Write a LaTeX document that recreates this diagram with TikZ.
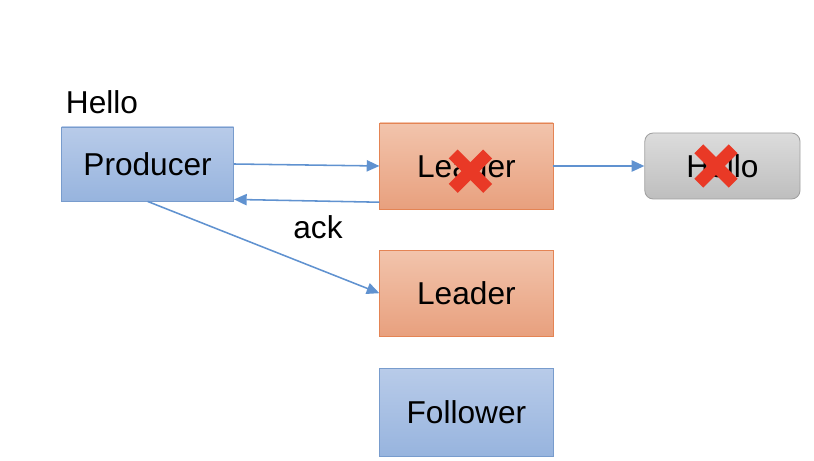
\documentclass[tikz,border=0pt]{standalone}
\usepackage{fontspec}
\setmainfont{Liberation Sans}
\usetikzlibrary{arrows.meta}
\definecolor{ink}{RGB}{0,0,0}
\definecolor{blueTop}{RGB}{184,203,233}
\definecolor{blueBot}{RGB}{151,180,222}
\definecolor{blueLine}{RGB}{120,156,205}
\definecolor{orTop}{RGB}{242,196,172}
\definecolor{orBot}{RGB}{232,160,126}
\definecolor{orLine}{RGB}{228,132,84}
\definecolor{grTop}{RGB}{220,220,220}
\definecolor{grBot}{RGB}{190,190,190}
\definecolor{grLine}{RGB}{160,160,160}
\definecolor{wire}{RGB}{96,146,208}
\definecolor{cross}{RGB}{233,57,38}

\begin{document}
\begin{tikzpicture}[
  box/.style={minimum height=1.85cm,minimum width=4.3cm,inner sep=0pt,text=ink,font=\fontsize{22.5}{27}\selectfont,line width=0.6pt},
  bluebox/.style={box,draw=blueLine,top color=blueTop,bottom color=blueBot},
  orbox/.style={box,draw=orLine,top color=orTop,bottom color=orBot,minimum width=4.33cm,minimum height=2.15cm},
  greybox/.style={box,draw=grLine,top color=grTop,bottom color=grBot,rounded corners=6pt,minimum width=3.88cm,minimum height=1.65cm},
  lbl/.style={font=\fontsize{22.5}{27}\selectfont,text=ink},
  arr/.style={-{Triangle[length=9pt,width=8pt]},draw=wire,line width=1.1pt},
  xmark/.style={draw=cross,line width=9pt}
]
\useasboundingbox (0,0) rectangle (20.35,-11.525);

\node[bluebox] (prod) at (3.69,-4.10) {Producer};
\node[orbox] (lead1) at (11.66,-4.15) {Leader};
\node[greybox] (msg) at (18.06,-4.15) {Hello};
\node[orbox] (lead2) at (11.66,-7.33) {Leader};
\node[bluebox,minimum width=4.33cm,minimum height=2.18cm] (fol) at (11.66,-10.31) {Follower};

\node[lbl] (hello) at (2.55,-2.55) {Hello};
\node[lbl] (ack) at (7.95,-5.68) {ack};

\draw[arr] (prod.east) -- (lead1.west);
\draw[arr] ([yshift=0.18cm]lead1.south west) -- ([yshift=0.05cm]prod.south east);
\draw[arr] (prod.south) -- (lead2.west);
\draw[arr] (lead1.east) -- (msg.west);

% crosses over the dead leader and the lost message
\coordinate (x1) at (11.76,-4.28);
\coordinate (x2) at (17.9,-4.15);
\foreach \c in {x1,x2} {
  \draw[xmark] ([shift={(-0.43,0.43)}]\c) -- ([shift={(0.43,-0.43)}]\c);
  \draw[xmark] ([shift={(-0.43,-0.43)}]\c) -- ([shift={(0.43,0.43)}]\c);
}
\end{tikzpicture}
\end{document}
